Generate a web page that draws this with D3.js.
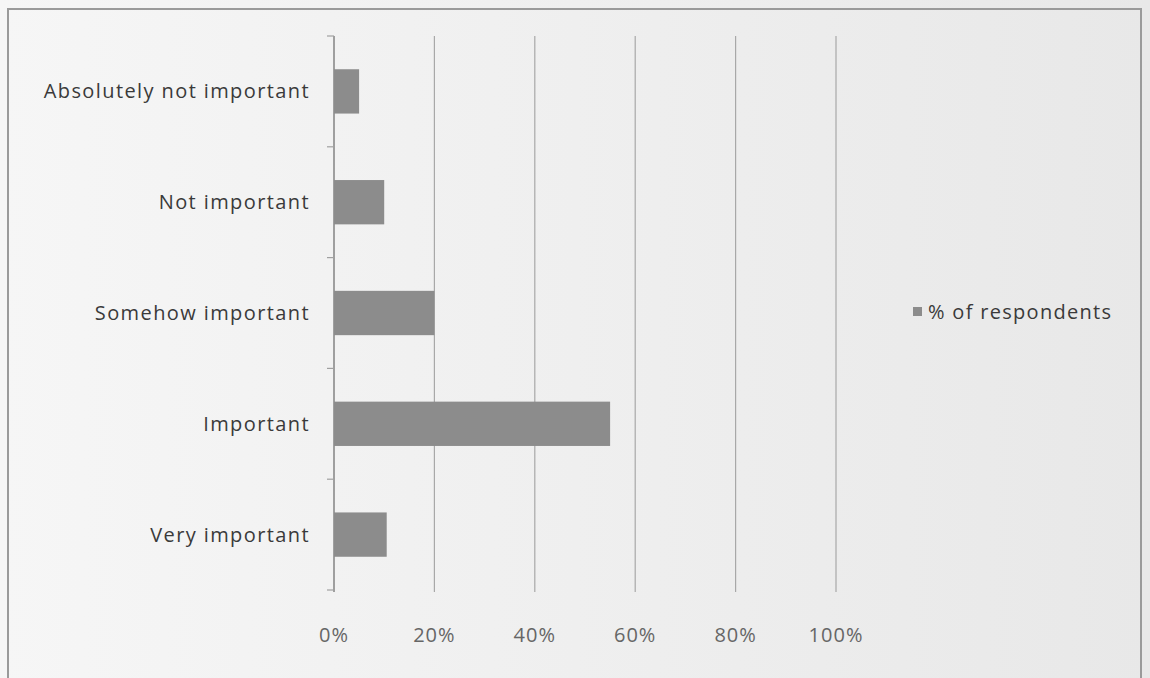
<!DOCTYPE html>
<html><head><meta charset="utf-8">
<script src="https://cdn.jsdelivr.net/npm/d3@7/dist/d3.min.js"></script>
<style>body{margin:0;background:#fff;}svg{display:block;}</style>
</head><body>
<svg id="chart" width="1150" height="678"></svg>
<script>
const categories = ["Absolutely not important","Not important","Somehow important","Important","Very important"];
const values = [5, 10, 20, 55, 10.5];
const tickValues = [0, 20, 40, 60, 80, 100];
const seriesName = "% of respondents";

const FONT = "'Open Sans', Lato, sans-serif";
const svg = d3.select("#chart");
const defs = svg.append("defs");
const g = defs.append("linearGradient").attr("id","bg").attr("x1","0").attr("x2","1").attr("y1","0").attr("y2","0");
g.append("stop").attr("offset","0").attr("stop-color","#f6f6f6");
g.append("stop").attr("offset","1").attr("stop-color","#e8e8e8");
svg.append("rect").attr("width",1150).attr("height",678).attr("fill","url(#bg)");
// frame
svg.append("path").attr("d","M8,678 L8,9 L1141,9 L1141,678").attr("fill","none").attr("stroke","#9a9a9a").attr("stroke-width",2);

const x = d3.scaleLinear().domain([0,100]).range([334,836]);
const y = d3.scaleBand().domain(categories).range([36,590]).paddingInner(0.6).paddingOuter(0.3);
const yEdge = d3.scaleLinear().domain([0,categories.length]).range([36,590]);

// gridlines
svg.append("g").selectAll("line").data(tickValues).join("line")
  .attr("x1",d=>x(d)).attr("x2",d=>x(d)).attr("y1",36).attr("y2",592)
  .attr("stroke",d=>d===0?"#8a8a8a":"#a8a8a8").attr("stroke-width",d=>d===0?1.6:1.2);

// y ticks at band edges
svg.append("g").selectAll("line").data(d3.range(categories.length+1)).join("line")
  .attr("x1",327).attr("x2",334).attr("y1",d=>yEdge(d)).attr("y2",d=>yEdge(d))
  .attr("stroke","#a0a0a0").attr("stroke-width",1.2);

// bars
svg.append("g").selectAll("rect").data(categories).join("rect")
  .attr("x",x(0)).attr("y",d=>y(d)).attr("width",(d,i)=>x(values[i])-x(0)).attr("height",y.bandwidth())
  .attr("fill","#8c8c8c");

// category labels
svg.append("g").selectAll("text").data(categories).join("text")
  .attr("x",310).attr("y",d=>y(d)+y.bandwidth()/2).attr("dy","0.35em")
  .attr("text-anchor","end").attr("font-family",FONT).attr("font-size",20).attr("letter-spacing",1.4)
  .attr("fill","#3a3a3a").text(d=>d);

// x tick labels
svg.append("g").selectAll("text").data(tickValues).join("text")
  .attr("x",d=>x(d)).attr("y",635).attr("dy","0.35em").attr("text-anchor","middle")
  .attr("font-family",FONT).attr("font-size",20).attr("letter-spacing",1)
  .attr("fill","#666").text(d=>d+"%");

// legend
svg.append("rect").attr("x",913).attr("y",307).attr("width",9).attr("height",9).attr("fill","#8c8c8c");
svg.append("text").attr("x",928).attr("y",312).attr("dy","0.35em")
  .attr("font-family",FONT).attr("font-size",20).attr("letter-spacing",1.3).attr("fill","#3a3a3a").text(seriesName);
</script>
</body></html>
